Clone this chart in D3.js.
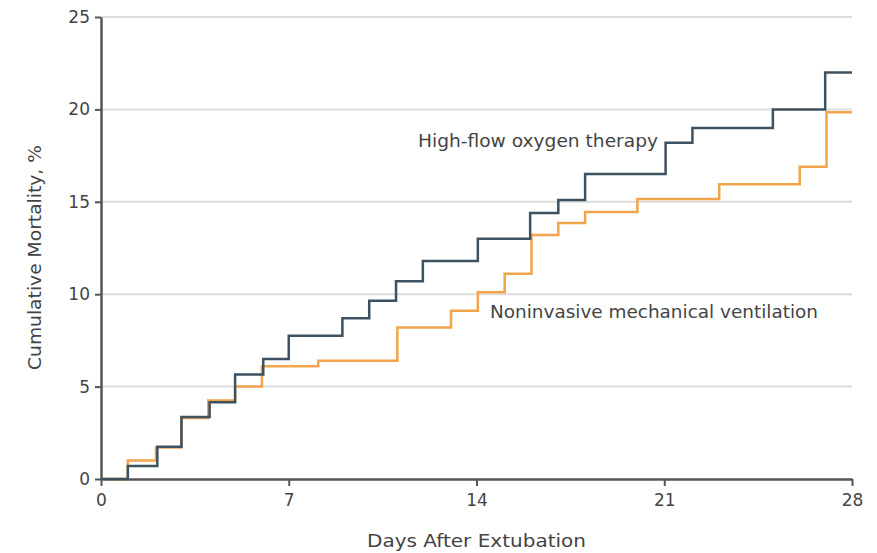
<!DOCTYPE html>
<html><head><meta charset="utf-8">
<script src="https://cdn.jsdelivr.net/npm/d3@7"></script>
<style>body{margin:0;background:#fff}svg{display:block}</style>
</head><body>
<svg id="c" width="877" height="553"></svg>
<script>
const hfDays = [0,1,2.1,3,4.05,5,6.05,7,9,10,11,12,14.05,16,17.05,18.05,21.05,22.05,25.05,27,28];
const hfVals = [0,0.7,1.75,3.35,4.15,5.65,6.5,7.75,8.7,9.65,10.7,11.8,13.0,14.4,15.1,16.5,18.2,19.0,20.0,22.0,22.0];
const nivDays = [0,1,2.05,3,4,5,6,8.1,11.05,13.05,14.05,15.05,16.05,17.05,18.05,20,23.05,26.05,27.05,28];
const nivVals = [0,1.0,1.7,3.3,4.25,5.0,6.1,6.4,8.2,9.1,10.1,11.1,13.2,13.85,14.45,15.15,15.95,16.9,19.85,19.85];
const xTicks = [0,7,14,21,28];
const yTicks = [0,5,10,15,20,25];
const seriesNames = ["High-flow oxygen therapy","Noninvasive mechanical ventilation"];
const xTitle = "Days After Extubation";
const yTitle = "Cumulative Mortality, %";

const svg = d3.select("#c");
const m = {l:101, r:852, t:17, b:479};
const x = d3.scaleLinear().domain([0,28]).range([m.l,m.r]);
const y = d3.scaleLinear().domain([0,25]).range([m.b,m.t]);
const font = "'DejaVu Sans', Verdana, sans-serif";
const txt = "#444", axc = "#555";

// gridlines
svg.append("g").selectAll("line").data(yTicks.filter(d=>d>0)).join("line")
  .attr("x1",m.l).attr("x2",m.r).attr("y1",d=>y(d)).attr("y2",d=>y(d))
  .attr("stroke","#dcdcdc").attr("stroke-width",2);

// axes
const ya = svg.append("g").attr("transform",`translate(${m.l},0)`)
  .call(d3.axisLeft(y).tickValues(yTicks).tickSize(6).tickPadding(5).tickSizeOuter(0));
const xa = svg.append("g").attr("transform",`translate(0,${m.b})`)
  .call(d3.axisBottom(x).tickValues(xTicks).tickSize(7).tickPadding(8).tickSizeOuter(0));
[ya,xa].forEach(g=>{
  g.select(".domain").attr("stroke",axc).attr("stroke-width",2.5);
  g.selectAll(".tick line").attr("stroke",axc).attr("stroke-width",2);
  g.selectAll(".tick text").attr("fill",txt).attr("font-family",font).attr("font-size",17);
});

const line = d3.line().x(d=>x(d[0])).y(d=>y(d[1])).curve(d3.curveStepAfter);
svg.append("path").datum(nivDays.map((d,i)=>[d,nivVals[i]]))
  .attr("d",line).attr("fill","none").attr("stroke","#f2a44c").attr("stroke-width",2.5);
svg.append("path").datum(hfDays.map((d,i)=>[d,hfVals[i]]))
  .attr("d",line).attr("fill","none").attr("stroke","#3e5160").attr("stroke-width",2.5);

// labels
function fitText(sel, w){ const n=sel.node(); if(n.getComputedTextLength()>0) sel.attr("textLength",w).attr("lengthAdjust","spacingAndGlyphs"); return sel; }
fitText(svg.append("text").attr("x",418).attr("y",147).text(seriesNames[0])
  .attr("font-family",font).attr("font-size",17).attr("fill",txt), 240);
fitText(svg.append("text").attr("x",490).attr("y",318).text(seriesNames[1])
  .attr("font-family",font).attr("font-size",17).attr("fill",txt), 328);

fitText(svg.append("text").attr("x",367).attr("y",547).text(xTitle)
  .attr("font-family",font).attr("font-size",17).attr("fill",txt), 219);
svg.append("g").attr("transform","translate(41,370) rotate(-90)").append("text").attr("x",0).attr("y",0).text(yTitle)
  .attr("font-family",font).attr("font-size",17).attr("fill",txt).attr("textLength",225).attr("lengthAdjust","spacingAndGlyphs");
</script>
</body></html>
